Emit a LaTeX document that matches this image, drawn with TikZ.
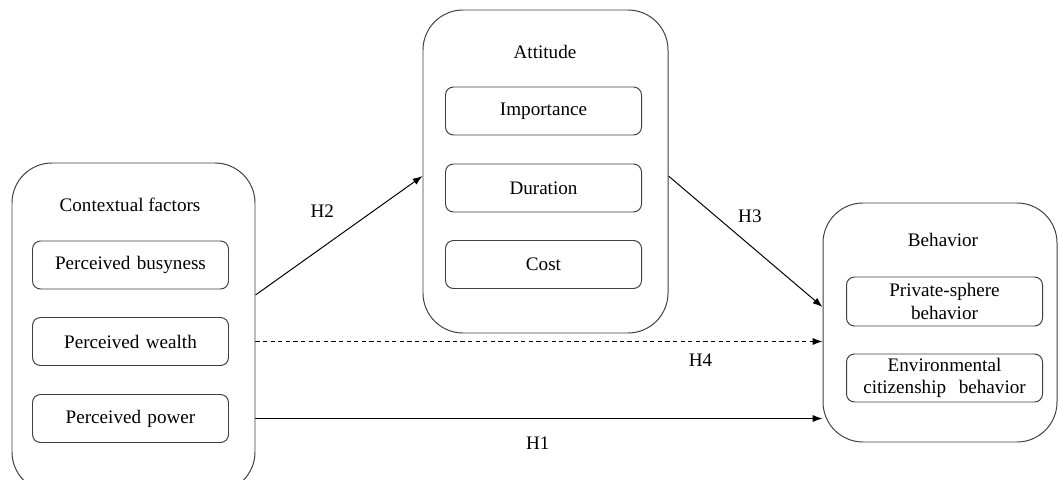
\documentclass[tikz,border=0pt]{standalone}
\usepackage{fontspec}
\setmainfont{Liberation Serif}
\usetikzlibrary{arrows.meta, positioning, backgrounds}

\begin{document}
\begin{tikzpicture}[font=\fontsize{13.6}{16}\selectfont]
\tikzstyle{group} = [rectangle, draw=black!75, line width=0.7pt, fill=white, rounded corners=1cm]
\tikzstyle{item} = [rectangle, draw=black!75, line width=0.7pt, fill=white, rounded corners=0.2cm, minimum width=4.9cm, minimum height=1.2cm, text width=4.8cm, text centered, inner sep=1pt, font=\fontsize{13.6}{16.2}\selectfont]
\tikzstyle{link} = [line width=0.7pt, ->, >={Latex[length=7pt, width=5pt]}]

\useasboundingbox (0,0) rectangle (26.475,11.975);

% contextual factors
\node (ctx) [group, minimum width=6.075cm, minimum height=8.225cm] at (3.3375,3.7875) {};
\node (ctxtitle) at (3.25,6.85) {Contextual\ factors};
\node (busy) [item] at (3.2625,5.35) {Perceived busyness};
\node (wealth) [item] at (3.2625,3.4375) {Perceived wealth};
\node (power) [item] at (3.2625,1.5125) {Perceived power};

% attitude
\node (att) [group, minimum width=6.125cm, minimum height=8.075cm] at (13.6375,7.6875) {};
\node (atttitle) at (13.625,10.675) {Attitude};
\node (imp) [item] at (13.5875,9.2) {Importance};
\node (dur) [item] at (13.5875,7.275) {Duration};
\node (cost) [item] at (13.5875,5.3625) {Cost};

% behavior
\node (beh) [group, minimum width=5.85cm, minimum height=5.975cm] at (23.5,3.9125) {};
\node (behtitle) at (23.575,5.975) {Behavior};
\node (priv) [item, minimum height=1.225cm] at (23.6125,4.4375) {Private-sphere\\behavior};
\node (env) [item] at (23.6125,2.525) {Environmental\\citizenship\ \ behavior};

\begin{scope}[on background layer]
\draw [link] (ctx.east |- 0,4.6) -- node[pos=0.4, yshift=0.9cm] {H2} (att.west |- 0,7.575);
\draw [link] (att.east |- 0,7.575) -- node[pos=0.5, xshift=0.11cm, yshift=0.64cm] {H3} (beh.west |- 0,4.3);
\draw [link, dash pattern=on 3pt off 2.4pt] (ctx.east |- wealth) -- node[pos=0.785, yshift=-0.475cm] {H4} (beh.west |- wealth);
\draw [link] (ctx.east |- power) -- node[pos=0.498, yshift=-0.625cm] {H1} (beh.west |- power);
\end{scope}

\end{tikzpicture}
\end{document}
